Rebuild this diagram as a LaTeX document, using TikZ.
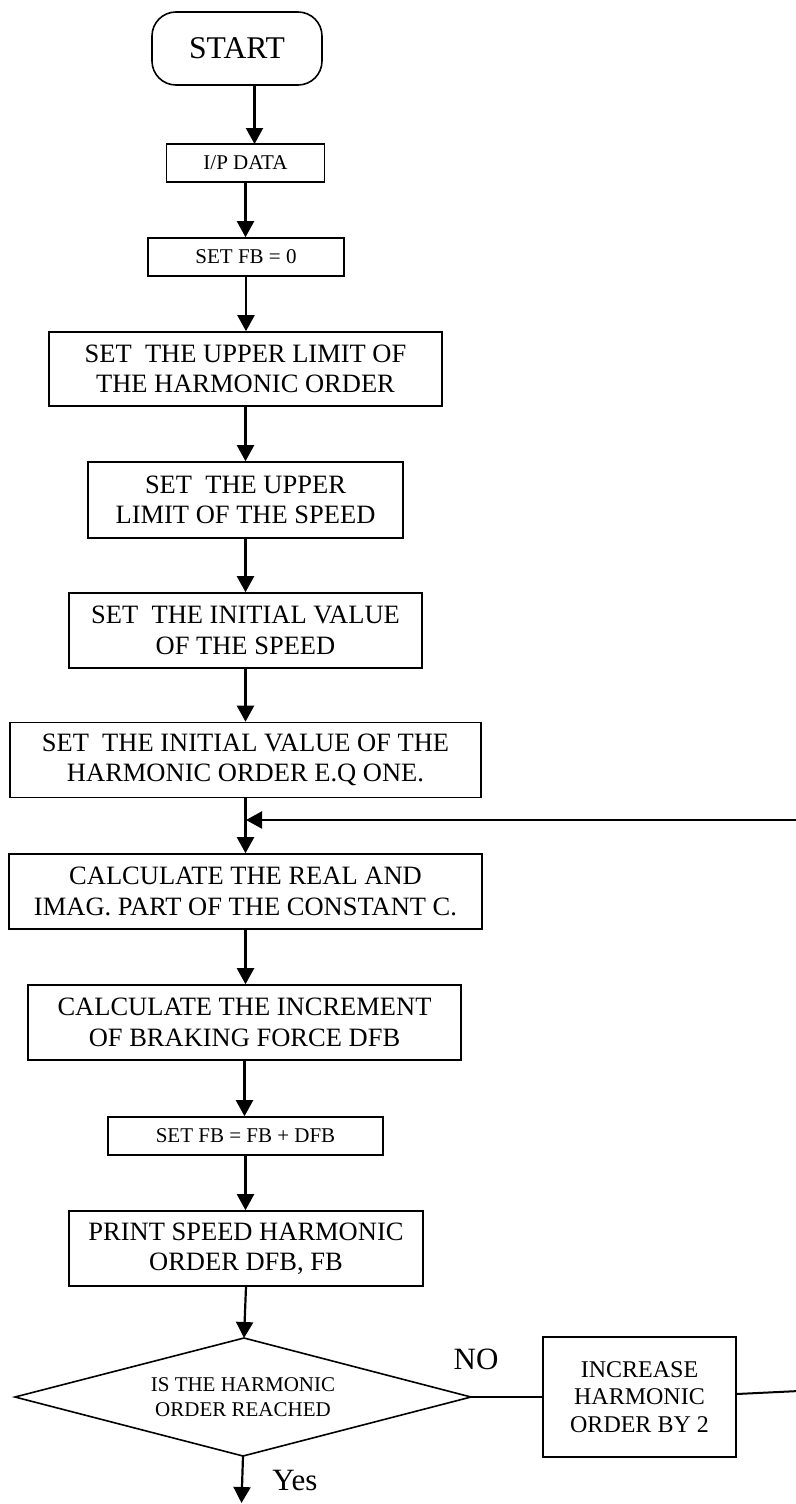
\documentclass[tikz,border=0pt]{standalone}
\usepackage{fontspec}
\setmainfont{Liberation Serif}
\usetikzlibrary{arrows.meta,shapes.geometric,calc}
\begin{document}
\begin{tikzpicture}[x=1pt,y=-1pt,
  proc/.style={draw=black, line width=1.6pt, align=center, inner sep=0pt,
    font=\fontsize{26.5}{30.5}\selectfont},
  smallbox/.style={draw=black, line width=1.6pt, align=center, inner sep=0pt,
    font=\fontsize{21}{24}\selectfont},
  termbox/.style={draw=black, line width=1.6pt, align=center, inner sep=0pt,
    rounded corners=24pt, font=\fontsize{31.6}{36}\selectfont},
  dectext/.style={align=center, inner sep=0pt, font=\fontsize{21}{25}\selectfont},
  outline/.style={draw=black, line width=1.6pt, line join=miter},
  lbl/.style={inner sep=0pt, font=\fontsize{31}{36}\selectfont},
  arr/.style={line width=2.2pt, -{Triangle[length=16pt,width=17pt]}},
  link/.style={line width=2pt}
]
\useasboundingbox (0,0) rectangle (795,1504);

\node[termbox, minimum width=170pt, minimum height=73pt] (start) at (237,48.5) {START};
\node[smallbox, minimum width=158pt, minimum height=38pt] (ipdata) at (245.5,163) {I/P DATA};
\node[smallbox, minimum width=196pt, minimum height=38pt] (setfb) at (246,257) {SET FB = 0};
\node[proc, minimum width=393pt, minimum height=74pt] (uplimh) at (245.5,369) {SET\ \ THE UPPER LIMIT OF\\THE HARMONIC ORDER};
\node[proc, minimum width=315pt, minimum height=76pt] (uplims) at (245.5,500) {SET\ \ THE UPPER\\LIMIT OF THE SPEED};
\node[proc, minimum width=353pt, minimum height=75pt] (inits) at (245.5,630.5) {SET\ \ THE INITIAL VALUE\\OF THE SPEED};
\node[proc, minimum width=471pt, minimum height=75pt] (inith) at (245.5,760) {SET\ \ THE INITIAL VALUE OF THE\\HARMONIC ORDER E.Q ONE.};
\node[proc, minimum width=473pt, minimum height=75pt] (calcc) at (245.5,891.5) {CALCULATE THE REAL AND\\IMAG. PART OF THE CONSTANT C.};
\node[proc, minimum width=433pt, minimum height=75pt] (incr) at (244.5,1022.5) {CALCULATE THE INCREMENT\\OF BRAKING FORCE DFB};
\node[smallbox, minimum width=275pt, minimum height=38pt] (setfb2) at (245.5,1136) {SET FB = FB + DFB};
\node[proc, minimum width=354pt, minimum height=75pt] (print) at (246,1248.5) {PRINT SPEED HARMONIC\\ORDER DFB, FB};

% decision diamond
\coordinate (dt) at (244,1338);
\coordinate (dr) at (471,1397);
\coordinate (db) at (243,1456);
\coordinate (dl) at (15,1397);
\draw[outline] (dt) -- (dr) -- (db) -- (dl) -- cycle;
\node[dectext] (dec) at (243,1397) {IS THE HARMONIC\\ORDER REACHED};

\node[proc, minimum width=193pt, minimum height=120pt, font=\fontsize{24}{27.5}\selectfont] (inc) at (639.5,1397) {INCREASE\\HARMONIC\\ORDER BY 2};
\node[lbl] (no) at (476,1359) {NO};
\node[lbl] (yes) at (295,1480) {Yes};

\coordinate (s1) at (254.5,85);
\coordinate (s2) at (254.5,144);
\coordinate (join) at (246,820);
\coordinate (rb) at (799,1391);
\coordinate (rt) at (799,820);
\coordinate (fin) at (241.5,1503);

\draw[arr] (s1) -- (s2);
\draw[arr] (ipdata.south) -- (ipdata.south |- setfb.north);
\draw[arr] (setfb.south) -- (setfb.south |- uplimh.north);
\draw[arr] (uplimh.south) -- (uplimh.south |- uplims.north);
\draw[arr] (uplims.south) -- (uplims.south |- inits.north);
\draw[arr] (inits.south) -- (inits.south |- inith.north);
\draw[arr] (inith.south) -- (inith.south |- calcc.north);
\draw[arr] (calcc.south) -- (calcc.south |- incr.north);
\draw[arr] (incr.south) -- (incr.south |- setfb2.north);
\draw[arr] (setfb2.south) -- (setfb2.south |- print.north);
\draw[arr] (print.south) -- (dt);
\draw[link] (dr) -- (inc.west);
\draw[arr] (db) -- (fin);
\draw[link] ([yshift=3pt]inc.east) -- (rb) -- (rt);
\draw[arr] (rt) -- (join);
\end{tikzpicture}
\end{document}
